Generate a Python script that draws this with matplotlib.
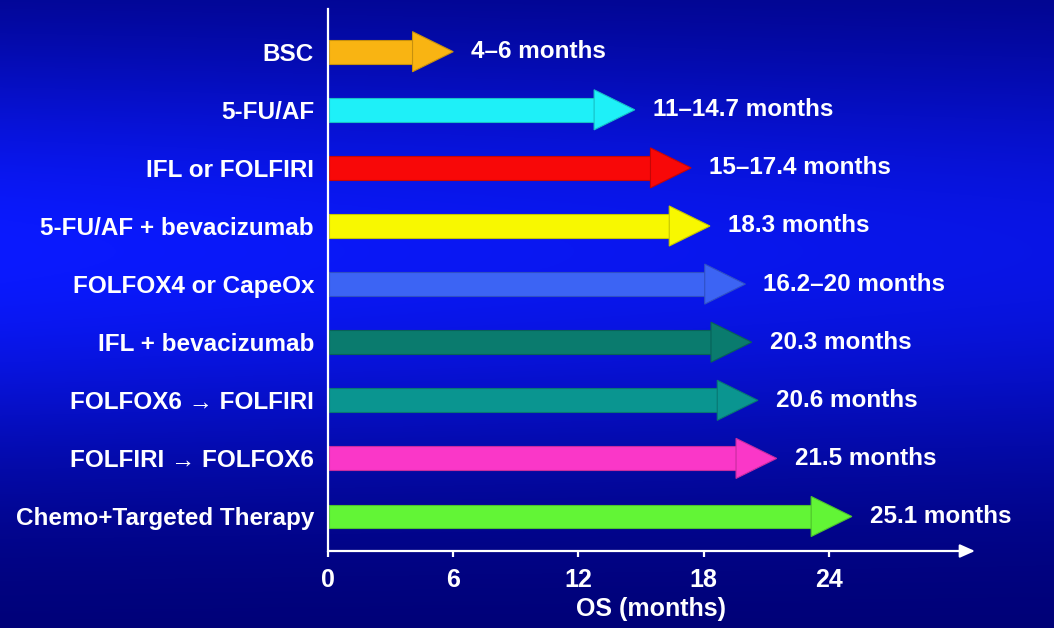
import matplotlib.pyplot as plt
import matplotlib.colors as mcolors
import numpy as np

regimens = ['BSC', '5-FU/AF', 'IFL or FOLFIRI', '5-FU/AF + bevacizumab',
            'FOLFOX4 or CapeOx', 'IFL + bevacizumab', 'FOLFOX6 \u2192 FOLFIRI',
            'FOLFIRI \u2192 FOLFOX6', 'Chemo+Targeted Therapy']
os_low = [4, 11, 15, 18.3, 16.2, 20.3, 20.6, 21.5, 25.1]
os_high = [6, 14.7, 17.4, 18.3, 20, 20.3, 20.6, 21.5, 25.1]
arrow_colors = ['#F9B412', '#1EF0F8', '#F80808', '#F8F800', '#3C64F4',
                '#0A7B6E', '#0A9590', '#FA37C8', '#62F536']
xticks = [0, 6, 12, 18, 24]

plt.rcParams['font.family'] = ['Liberation Sans', 'DejaVu Sans']
plt.rcParams['font.weight'] = 'bold'

fig = plt.figure(figsize=(10.54, 6.28), dpi=100)

# blue slide background, brightest a little above the middle
bg = fig.add_axes([0, 0, 1, 1], zorder=-1)
yy, xx = np.mgrid[0:1:300j, 0:1:500j]
f = np.exp(-((yy - 0.40) / 0.36) ** 2) * (1 - 0.18 * xx)
dark = np.array([0.0, 0.0, 0.44])
bright = np.array([0.04, 0.10, 1.0])
img = dark + f[..., None] * (bright - dark)
bg.imshow(img, aspect='auto', extent=[0, 1, 0, 1], origin='upper')
bg.axis('off')

ax = fig.add_axes([328 / 1054, 77 / 628, 647 / 1054, 542 / 628])
ax.set_facecolor('none')
rows = np.arange(len(regimens))
ax.set_xlim(0, 31)
ax.set_ylim(8.594, -0.735)

head_len = 1.95
body_h = 0.41
head_w = 0.69
for r, hi, c in zip(rows, os_high, arrow_colors):
    edge = np.array(mcolors.to_rgb(c)) * 0.8
    ax.barh(r, hi - head_len, height=body_h, left=0.05, color=c,
            edgecolor=edge, linewidth=0.8, zorder=2)
    ax.fill([hi - head_len, hi, hi - head_len],
            [r - head_w / 2, r, r + head_w / 2],
            color=c, edgecolor=edge, linewidth=0.8, zorder=3)

for r, lo, hi in zip(rows, os_low, os_high):
    if lo != hi:
        txt = f'{lo:g}\u2013{hi:g} months'
    else:
        txt = f'{hi:g} months'
    ax.annotate(txt, (hi, r), xytext=(13, 0), textcoords='offset points',
                va='center', ha='left', color='white', fontsize=17.5,
                fontweight='bold', annotation_clip=False)

# axes drawn in white, x axis ends in an arrow
for s in ['top', 'right', 'bottom']:
    ax.spines[s].set_visible(False)
ax.spines['left'].set_color('white')
ax.spines['left'].set_linewidth(1.6)
ax.annotate('', xy=(31, 8.594), xytext=(0, 8.594),
            arrowprops=dict(arrowstyle='-|>,head_length=0.9,head_width=0.4',
                            color='white', lw=1.6, shrinkA=0, shrinkB=0),
            annotation_clip=False)

ax.set_yticks(rows, regimens)
ax.tick_params(axis='y', length=0, pad=10, labelsize=17.5, labelcolor='white')
ax.set_xticks(xticks)
ax.tick_params(axis='x', length=4, width=1.6, color='white', pad=8,
               labelsize=18, labelcolor='white')
ax.set_xlabel('OS (months)', color='white', fontsize=18, fontweight='bold',
              labelpad=4)

fig.savefig('out.png', dpi=100)
